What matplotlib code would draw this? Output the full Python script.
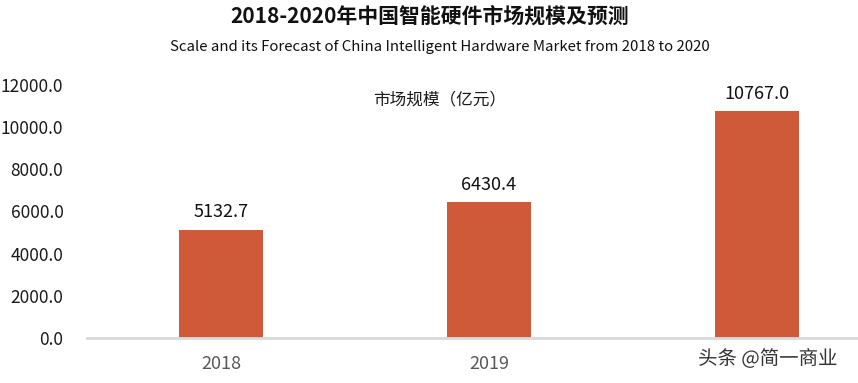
import matplotlib.pyplot as plt
import matplotlib.patheffects as pe

plt.rcParams['font.family'] = ['Noto Sans CJK SC', 'DejaVu Sans']

# data
years = ['2018', '2019', '2020']
market = [5132.7, 6430.4, 10767.0]
yticks = [0, 2000, 4000, 6000, 8000, 10000, 12000]

bar_color = '#CF5A3A'
H = 383.0

fig = plt.figure(figsize=(8.58, 3.83), dpi=100)
ax = fig.add_axes([87 / 858, 45 / H, 1 - 87 / 858, 253 / H])

x = range(len(years))
ax.bar(x, market, width=0.313, color=bar_color)

for i, v in enumerate(market):
    ax.annotate('%.1f' % v, (i, v), xytext=(0, 6), textcoords='offset points',
                ha='center', va='bottom', fontsize=13, color='#111111')

ax.set_xlim(-0.5, -0.5 + 771 / 268)
ax.set_ylim(0, 12000)
ax.set_yticks(yticks)
ax.set_yticklabels(['%.1f' % t for t in yticks], fontsize=12.5, color='#1a1a1a')
ax.set_xticks(list(x))
ax.set_xticklabels(years, fontsize=13, color='#595959')
ax.tick_params(axis='both', length=0)
ax.tick_params(axis='y', pad=17)
ax.tick_params(axis='x', pad=12)

for s in ['top', 'right', 'left']:
    ax.spines[s].set_visible(False)
ax.spines['bottom'].set_color('#D9D9D9')
ax.spines['bottom'].set_linewidth(2)

fig.text(440 / 858, 1 - 100 / H, '市场规模（亿元）',
         ha='center', va='center', fontsize=12, color='#1a1a1a')

fig.text(430 / 858, 1 - 16 / H, '2018-2020年中国智能硬件市场规模及预测',
         ha='center', va='center', fontsize=15, fontweight='bold', color='#111111')
fig.text(440 / 858, 1 - 47 / H,
         'Scale and its Forecast of China Intelligent Hardware Market from 2018 to 2020',
         ha='center', va='center', fontsize=10.8, color='#111111')

# watermark (covers the 2020 label as in the source image)
fig.text(768 / 858, 1 - 359 / H, '头条 @简一商业', ha='center', va='center',
         fontsize=14, color='#333333', zorder=10,
         bbox=dict(facecolor='white', edgecolor='none', pad=1),
         path_effects=[pe.withStroke(linewidth=3, foreground='white')])

fig.savefig('out.png', dpi=100)
